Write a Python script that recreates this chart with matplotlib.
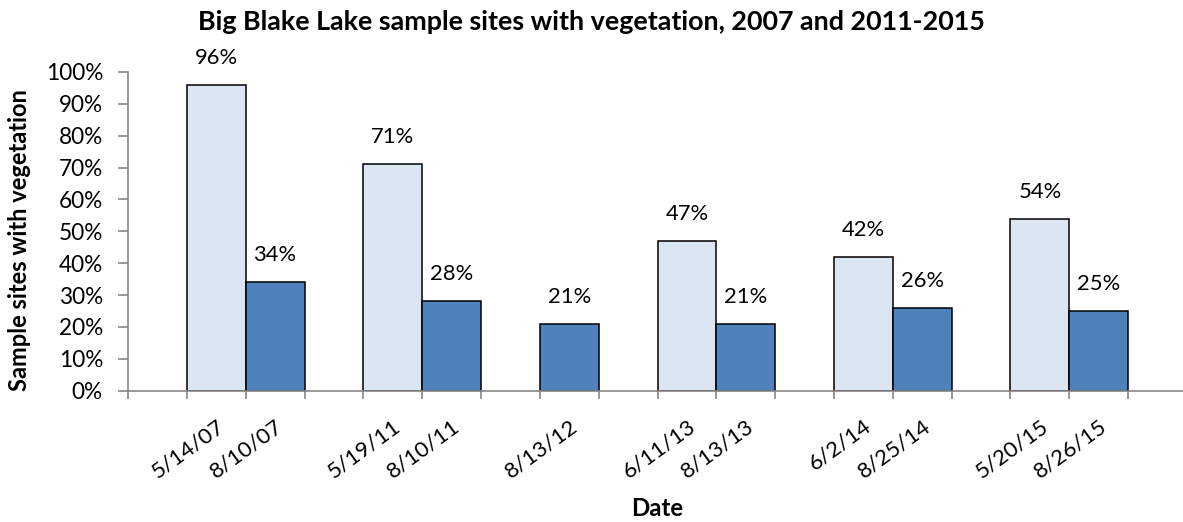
import matplotlib
matplotlib.use("Agg")
import matplotlib.pyplot as plt
from matplotlib.ticker import PercentFormatter

plt.rcParams["font.family"] = ["Lato", "DejaVu Sans"]

# Survey data: early-season and late-season sampling per year
years = ["2007", "2011", "2012", "2013", "2014", "2015"]
early_dates = ["5/14/07", "5/19/11", None, "6/11/13", "6/2/14", "5/20/15"]
early_pct = [96, 71, None, 47, 42, 54]
late_dates = ["8/10/07", "8/10/11", "8/13/12", "8/13/13", "8/25/14", "8/26/15"]
late_pct = [34, 28, 21, 21, 26, 25]

y_ticks = list(range(0, 101, 10))

EARLY_COLOR = "#DCE6F2"
LATE_COLOR = "#4F81BD"
AXIS_COLOR = "#868686"

# Lay out one slot per sampling date, with an empty slot before each year
slot_labels = []
bars = []  # (slot index, value, color)
for ed, ev, ld, lv in zip(early_dates, early_pct, late_dates, late_pct):
    slot_labels.append("")
    if ed is not None:
        bars.append((len(slot_labels), ev, EARLY_COLOR))
        slot_labels.append(ed)
    bars.append((len(slot_labels), lv, LATE_COLOR))
    slot_labels.append(ld)
slot_labels.append("")
n_slots = len(slot_labels)

W, H = 1183, 522
fig = plt.figure(figsize=(W / 100, H / 100), dpi=100)
ax_left, ax_right = 128, 1187
ax_top, ax_bottom = 72, 390.7
ax = fig.add_axes([ax_left / W, 1 - ax_bottom / H,
                   (ax_right - ax_left) / W, (ax_bottom - ax_top) / H])

for idx, val, col in bars:
    ax.bar(idx, val, width=1.0, color=col, edgecolor="black",
           linewidth=1.1, zorder=3)
    ax.annotate(f"{val}%", (idx, val), xytext=(0, 19.5),
                textcoords="offset points", ha="center", va="center",
                fontsize=15.8)

ax.set_xlim(-0.5, n_slots - 0.5)
ax.set_ylim(0, 100)
ax.set_yticks(y_ticks)
ax.yaxis.set_major_formatter(PercentFormatter(decimals=0))
ax.tick_params(axis="y", direction="out", length=7, width=1.2,
               color=AXIS_COLOR, labelsize=16.3, pad=11)

# Boundary ticks between slots, labels at slot centres
ax.set_xticks([i - 0.5 for i in range(n_slots)])
ax.set_xticklabels([])
ax.tick_params(axis="x", which="major", direction="out", length=6,
               width=1.2, color=AXIS_COLOR)
ax.set_xticks(list(range(n_slots)), slot_labels, minor=True)
ax.tick_params(axis="x", which="minor", length=0, pad=18, labelsize=16)
for lbl in ax.get_xticklabels(minor=True):
    lbl.set_rotation(36)
    lbl.set_ha("right")
    lbl.set_va("top")
    lbl.set_rotation_mode("anchor")

for side in ("top", "right"):
    ax.spines[side].set_visible(False)
for side in ("left", "bottom"):
    ax.spines[side].set_color(AXIS_COLOR)
    ax.spines[side].set_linewidth(1.2)
ax.spines["bottom"].set_zorder(4)

fig.text(20 / W, 1 - 240 / H, "Sample sites with vegetation",
         rotation=90, ha="center", va="center", fontsize=17,
         fontweight="bold")
fig.text((ax_left + ax_right) / 2 / W, 1 - 509 / H, "Date",
         ha="center", va="center", fontsize=17.3, fontweight="bold")
fig.text(0.5, 1 - 22 / H,
         "Big Blake Lake sample sites with vegetation, 2007 and 2011-2015",
         ha="center", va="center", fontsize=19.4, fontweight="bold")

fig.savefig("out.png", dpi=100)
